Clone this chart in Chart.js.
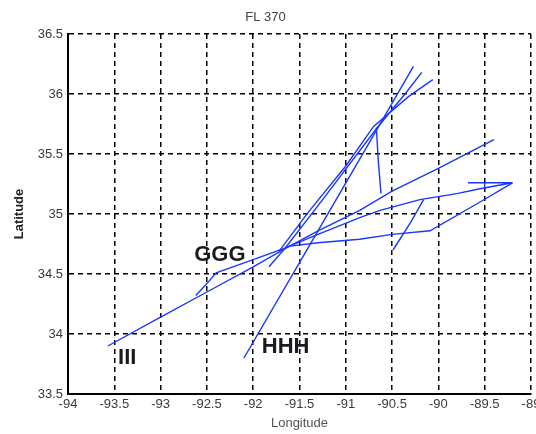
<!DOCTYPE html>
<html><head><meta charset="utf-8">
<script src="https://cdn.jsdelivr.net/npm/chart.js@4.4.1/dist/chart.umd.min.js"></script>
<style>html,body{margin:0;padding:0;background:#fff}canvas{display:block}</style>
</head><body>
<canvas id="c" width="536" height="434"></canvas>
<script>
// ---- tick labels ----
const xTickLabels = ['-94','-93.5','-93','-92.5','-92','-91.5','-91','-90.5','-90','-89.5','-89'];
const yTickLabels = ['33.5','34','34.5','35','35.5','36','36.5'];

// ---- flight tracks (longitude / latitude) ----
const trackIII_lon = [-93.57, -93.0, -92.5, -92.0, -91.66, -91.3, -90.85, -90.5, -90.0, -89.40];
const trackIII_lat = [33.90, 34.14, 34.35, 34.56, 34.71, 34.86, 35.03, 35.19, 35.38, 35.62];

const trackGGG_lon = [-92.62, -92.50, -92.40, -92.0, -91.68, -91.30, -90.85, -90.63, -90.20, -89.80, -89.55, -89.20, -89.68];
const trackGGG_lat = [34.32, 34.42, 34.51, 34.62, 34.71, 34.83, 34.97, 35.03, 35.12, 35.17, 35.21, 35.26, 35.26];

const trackHHH_lon = [-92.10, -91.39, -90.66, -90.27];
const trackHHH_lat = [33.80, 34.74, 35.71, 36.23];

const trackC_lon = [-91.83, -91.66, -91.25, -90.67, -90.35, -90.18];
const trackC_lat = [34.56, 34.71, 35.12, 35.71, 36.01, 36.18];

const trackD_lon = [-91.72, -91.40, -91.00, -90.70, -90.32, -90.06];
const trackD_lat = [34.69, 35.02, 35.40, 35.73, 35.98, 36.12];

const trackE_lon = [-90.67, -90.65, -90.62];
const trackE_lat = [35.72, 35.45, 35.17];

const trackF_lon = [-91.62, -91.30, -90.85, -90.50, -90.09, -89.55, -89.20];
const trackF_lat = [34.73, 34.76, 34.79, 34.83, 34.86, 35.10, 35.26];

const trackG_lon = [-90.49, -90.30, -90.16];
const trackG_lat = [34.70, 34.93, 35.12];

const trackH_lon = [-89.50, -89.50];
const trackH_lat = [35.26, 35.21];

// ---- text annotations ----
const labelTexts = ['GGG', 'HHH', 'III'];
const labelLon = [-92.36, -91.65, -93.36];
const labelLat = [34.66, 33.89, 33.80];

const tracks = [
  [trackIII_lon, trackIII_lat], [trackGGG_lon, trackGGG_lat], [trackHHH_lon, trackHHH_lat],
  [trackC_lon, trackC_lat], [trackD_lon, trackD_lat], [trackE_lon, trackE_lat],
  [trackF_lon, trackF_lat], [trackG_lon, trackG_lat], [trackH_lon, trackH_lat]
];

const LINE_COLOR = 'rgb(25,55,255)';
const datasets = tracks.map(([lo, la]) => ({
  data: lo.map((v, i) => ({x: v, y: la[i]})),
  showLine: true, borderColor: LINE_COLOR, borderWidth: 1.4,
  pointRadius: 0, fill: false, tension: 0
}));

const textLabels = {
  id: 'textLabels',
  afterDatasetsDraw(chart) {
    const {ctx, scales: {x, y}} = chart;
    ctx.save();
    ctx.font = 'bold 22px "Liberation Sans", Arial, sans-serif';
    ctx.fillStyle = '#1a1a22';
    ctx.textAlign = 'center';
    ctx.textBaseline = 'middle';
    labelTexts.forEach((t, i) => ctx.fillText(t, x.getPixelForValue(labelLon[i]), y.getPixelForValue(labelLat[i])));
    ctx.restore();
  }
};

Chart.defaults.font.family = '"Liberation Sans", Arial, sans-serif';
const tickFont = {size: 13};
const gridOpts = {color: '#000', lineWidth: 1.5, drawTicks: false};
const borderOpts = {display: true, color: '#000', width: 2, dash: [5, 4]};

new Chart(document.getElementById('c'), {
  type: 'scatter',
  data: {datasets},
  plugins: [textLabels],
  options: {
    responsive: false, animation: false,
    layout: {padding: {left: 0, right: 5, top: 0, bottom: 0}},
    plugins: {
      legend: {display: false}, tooltip: {enabled: false},
      title: {display: true, text: 'FL 370', color: '#444', font: {size: 13, weight: 'normal'},
              padding: {top: 10, bottom: 8.4}}
    },
    scales: {
      x: {
        type: 'linear', min: -94, max: -89,
        ticks: {stepSize: 0.5, padding: 3, color: '#3a3a3a', font: tickFont, maxRotation: 0,
                autoSkip: false, callback: (v, i) => xTickLabels[i]},
        grid: gridOpts, border: borderOpts,
        title: {display: true, text: 'Longitude', color: '#555', font: {size: 13}, padding: {top: 0, bottom: 3}},
        afterFit: s => { s.height = 40; s.paddingRight = 0; s.paddingLeft = 0; }
      },
      y: {
        type: 'linear', min: 33.5, max: 36.5,
        ticks: {stepSize: 0.5, padding: 5, color: '#3a3a3a', font: tickFont,
                autoSkip: false, callback: (v, i) => yTickLabels[i]},
        grid: gridOpts, border: borderOpts,
        title: {display: true, text: 'Latitude', color: '#222', font: {size: 13, weight: 'bold'}, padding: {top: 12, bottom: 0}},
        afterFit: s => { s.width = 68; s.paddingTop = 0; s.paddingBottom = 0; }
      }
    }
  }
});
</script>
</body></html>
